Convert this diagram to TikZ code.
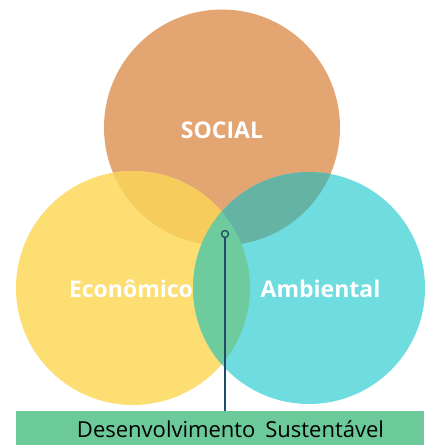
\documentclass[tikz,border=0pt]{standalone}
\usepackage{fontspec}
\setmainfont{Open Sans}
\definecolor{social}{HTML}{E3A673}
\definecolor{econ}{HTML}{FCDE73}
\definecolor{amb}{HTML}{6FDCE0}
\definecolor{socecon}{HTML}{F6CD5C}
\definecolor{socamb}{HTML}{64B3A5}
\definecolor{econamb}{HTML}{6DCB9D}
\definecolor{barfill}{HTML}{6CC99A}
\definecolor{dotblue}{HTML}{1F4B68}
\tikzset{
	set/.style = {circle, inner sep=0pt},
	setlabel/.style = {text=white, font=\fontsize{23}{27}\selectfont\bfseries},
	link/.style = {draw=dotblue, line width=1.3pt}
}
\begin{document}
\begin{tikzpicture}[x=1pt,y=1pt]
	\useasboundingbox (0,0) rectangle (424,445);
	\coordinate (cS) at (222,317.5);
	\coordinate (cE) at (133,157);
	\coordinate (cA) at (309,157);
	\node (S) at (cS)	[set, fill = social, minimum size = 236pt]	{};
	\node (E) at (cE)	[set, fill = econ, minimum size = 234pt]	{};
	\node (A) at (cA)	[set, fill = amb, minimum size = 232pt]	{};
	% overlaps
	\begin{scope}
		\clip (cS) circle (118);
		\fill[socecon] (cE) circle (117);
		\fill[socamb] (cA) circle (116);
	\end{scope}
	\begin{scope}
		\clip (cE) circle (117);
		\fill[econamb] (cA) circle (116);
	\end{scope}
	\node (lS) at (222,315)	[setlabel]	{SOCIAL};
	\node (lE) at (131,156)	[setlabel]	{Econômico};
	\node (lA) at (320.5,156)	[setlabel]	{Ambiental};
	\node (bar) at (220,17)	[rectangle, fill = barfill, minimum width = 408pt, minimum height = 34pt, inner sep = 0pt]	{};
	\node (lD) at (230.5,16)	[font=\fontsize{22}{26}\selectfont]	{Desenvolvimento\hspace{0.45em}Sustentável};
	\node (dot) at (225,211)	[circle, link, inner sep = 0pt, minimum size = 7pt]	{};
	\draw[link] (dot) -- (dot |- bar.north);
\end{tikzpicture}
\end{document}
